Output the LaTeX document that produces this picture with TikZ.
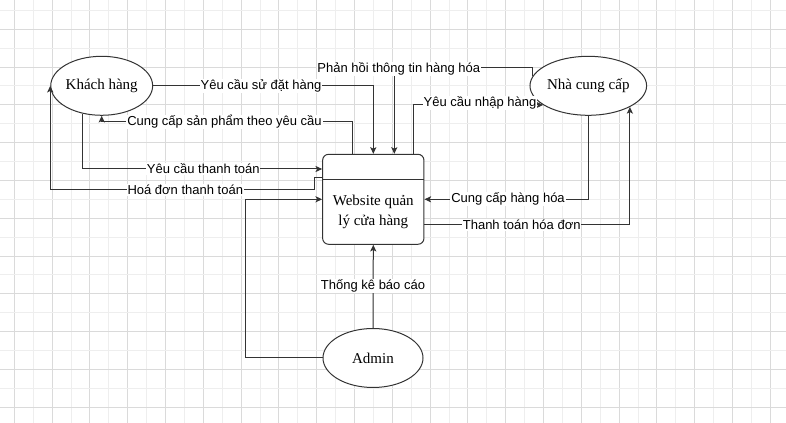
\documentclass[tikz,border=0pt]{standalone}
\usepackage{fontspec}
\setmainfont{Liberation Serif}
\newfontfamily\lblfont{Liberation Sans}
\usetikzlibrary{arrows.meta,calc,shapes.geometric}
\definecolor{gridlight}{RGB}{238,238,238}
\definecolor{griddark}{RGB}{218,218,218}
\definecolor{ink}{RGB}{51,51,51}
\begin{document}
\begin{tikzpicture}[x=0.75pt,y=-0.75pt,
  conn/.style={draw=ink,line width=0.75pt},
  arr/.style={conn,-{Stealth[length=5pt,width=4.6pt,inset=1.2pt]}},
  entity/.style={ellipse,draw=ink,line width=0.75pt,fill=white,minimum width=75pt,minimum height=44.25pt,inner sep=0pt,font=\fontsize{11.25}{14}\selectfont},
  procbox/.style={rectangle,rounded corners=4.5pt,draw=ink,line width=0.75pt,fill=white,minimum width=76pt,minimum height=67.5pt,inner sep=0pt},
  lbl/.style={fill=white,inner sep=0.6pt,font=\lblfont\fontsize{9.75}{11}\selectfont,text=black}]
\useasboundingbox (0,0) rectangle (786,423);
\fill[white] (0,0) rectangle (786,423);
% grid
\foreach \i in {0,...,41}{
  \pgfmathsetmacro\gx{14.3+18.9*\i}
  \ifodd\i
    \draw[gridlight,line width=0.75pt] (\gx,0) -- (\gx,423);
  \else
    \draw[griddark,line width=0.75pt] (\gx,0) -- (\gx,423);
  \fi
}
\foreach \j in {0,...,22}{
  \pgfmathsetmacro\gy{10.4+18.9*\j}
  \ifodd\j
    \draw[griddark,line width=0.75pt] (0,\gy) -- (786,\gy);
  \else
    \draw[gridlight,line width=0.75pt] (0,\gy) -- (786,\gy);
  \fi
}
% nodes
\node[entity] (kh) at (101.7,85.8) {Khách hàng};
\node[entity] (ncc) at (588.3,85.8) {Nhà cung cấp};
\node[entity] (admin) at (373,358) {Admin};
\node[procbox] (box) at (373.3,199.3) {};
\draw[conn] ($(box.north west)+(0,25.7)$) -- ($(box.north east)+(0,25.7)$);
\node[align=center,font=\fontsize{11.25}{15}\selectfont,inner sep=0pt] (boxtext) at (373.3,212.3) {Website quản\\lý cửa hàng};
% connectors
\draw[arr] (kh.east) -| (box.north);
\draw[arr] ($(box.north)+(-21,0)$) -- ++(0,-32.3) -| (kh.south);
\draw[arr] (kh.236) |- ($(box.west)+(0,-30.3)$);
\draw[arr] ($(box.west)+(0,-21.3)$) -- ++(-7.7,0) -- ++(0,12) -| (kh.west);
\draw[arr] (ncc.170) -- ++(0,-8.5) -| ($(box.north)+(21,0)$);
\draw[arr] ($(box.north)+(40,0)$) |- (ncc.203.5);
\draw[arr] (ncc.south) |- (box.east);
\draw[arr] ($(box.east)+(0,25.7)$) -| (ncc.-27.2);
\draw[arr] (admin.west) -- ++(-77.3,0) |- (box.west);
\draw[arr] (admin.north) -- (box.south);
% labels
\node[lbl] (l1) at (261,85.8) {Yêu cầu sử đặt hàng};
\node[lbl] (l2) at (224.5,122) {Cung cấp sản phẩm theo yêu cầu};
\node[lbl] (l3) at (203.3,169) {Yêu cầu thanh toán};
\node[lbl] (l4) at (185.3,190) {Hoá đơn thanh toán};
\node[lbl] (l5) at (398.8,69) {Phản hồi thông tin hàng hóa};
\node[lbl] (l6) at (480,103) {Yêu cầu nhập hàng};
\node[lbl] (l7) at (508,199.3) {Cung cấp hàng hóa};
\node[lbl] (l8) at (521.7,225) {Thanh toán hóa đơn};
\node[lbl] (l9) at (373,286) {Thống kê báo cáo};
\end{tikzpicture}
\end{document}
